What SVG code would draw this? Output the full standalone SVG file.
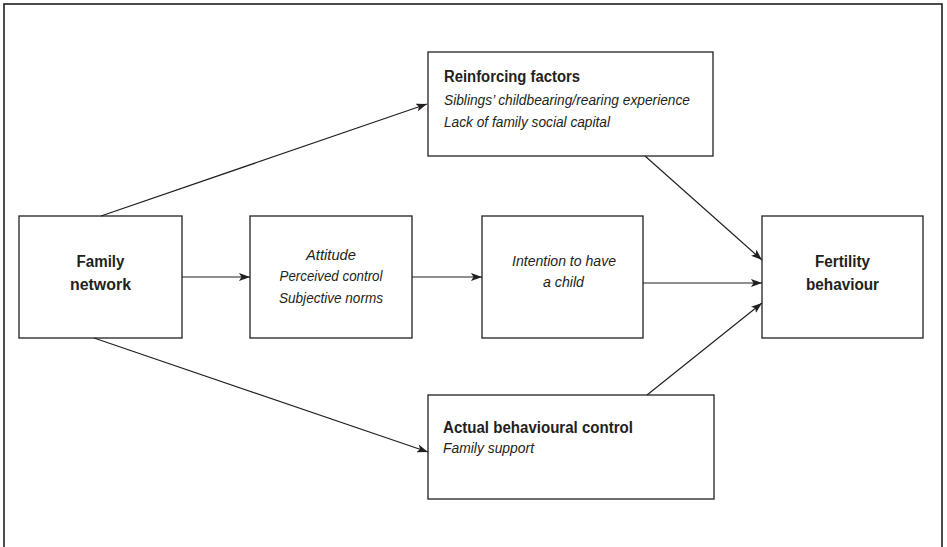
<svg xmlns="http://www.w3.org/2000/svg" width="947" height="547" viewBox="0 0 947 547">
<defs>
<style>
.box{fill:#fff;stroke:#231f20;stroke-width:1.3}
.frame{fill:#fff;stroke:#231f20;stroke-width:1.6}
.conn{stroke:#231f20;stroke-width:1.2;fill:none;marker-end:url(#ah)}
text{font-family:"Liberation Sans",Arial,sans-serif;fill:#231f20}
.b{font-weight:bold;font-size:16px}
.i{font-style:italic;font-size:15.5px}
.m{text-anchor:middle}
</style>
<marker id="ah" markerWidth="12" markerHeight="8" refX="11" refY="4" orient="auto" markerUnits="userSpaceOnUse">
<path d="M0,0 L11,4 L0,8 L2.5,4 Z" fill="#231f20"/>
</marker>
</defs>
<rect class="frame" x="4" y="4" width="938" height="560"/>
<g id="family-network">
<rect class="box" x="19" y="216" width="163" height="122"/>
<text class="b m" x="100.5" y="267" textLength="48" lengthAdjust="spacingAndGlyphs">Family</text>
<text class="b m" x="100.5" y="290" textLength="61" lengthAdjust="spacingAndGlyphs">network</text>
</g>
<g id="attitude">
<rect class="box" x="250" y="216" width="162" height="122"/>
<text class="i m" x="331" y="260" textLength="50" lengthAdjust="spacingAndGlyphs">Attitude</text>
<text class="i m" x="331" y="281" textLength="103" lengthAdjust="spacingAndGlyphs">Perceived control</text>
<text class="i m" x="331" y="303" textLength="104" lengthAdjust="spacingAndGlyphs">Subjective norms</text>
</g>
<g id="intention">
<rect class="box" x="482" y="216" width="161" height="122"/>
<text class="i m" x="564" y="266" textLength="104" lengthAdjust="spacingAndGlyphs">Intention to have</text>
<text class="i m" x="563.5" y="287" textLength="41" lengthAdjust="spacingAndGlyphs">a child</text>
</g>
<g id="fertility">
<rect class="box" x="762" y="216" width="161" height="122"/>
<text class="b m" x="842.5" y="267" textLength="55" lengthAdjust="spacingAndGlyphs">Fertility</text>
<text class="b m" x="842.5" y="290" textLength="73" lengthAdjust="spacingAndGlyphs">behaviour</text>
</g>
<g id="reinforcing">
<rect class="box" x="428" y="52" width="285" height="104"/>
<text class="b" x="444" y="82" textLength="136" lengthAdjust="spacingAndGlyphs">Reinforcing factors</text>
<text class="i" x="444" y="105" textLength="246" lengthAdjust="spacingAndGlyphs">Siblings’ childbearing/rearing experience</text>
<text class="i" x="444" y="127" textLength="166" lengthAdjust="spacingAndGlyphs">Lack of family social capital</text>
</g>
<g id="actual">
<rect class="box" x="428" y="395" width="286" height="104"/>
<text class="b" x="443" y="433" textLength="190" lengthAdjust="spacingAndGlyphs">Actual behavioural control</text>
<text class="i" x="443" y="453" textLength="91" lengthAdjust="spacingAndGlyphs">Family support</text>
</g>
<g id="connectors">
<line class="conn" x1="101" y1="216" x2="427" y2="104"/>
<line class="conn" x1="182" y1="277" x2="250" y2="277"/>
<line class="conn" x1="412" y1="277" x2="482" y2="277"/>
<line class="conn" x1="643" y1="283" x2="762" y2="283"/>
<line class="conn" x1="645" y1="156" x2="762" y2="260"/>
<line class="conn" x1="647" y1="395" x2="762" y2="303"/>
<line class="conn" x1="94" y1="338" x2="428" y2="452"/>
</g>
</svg>
